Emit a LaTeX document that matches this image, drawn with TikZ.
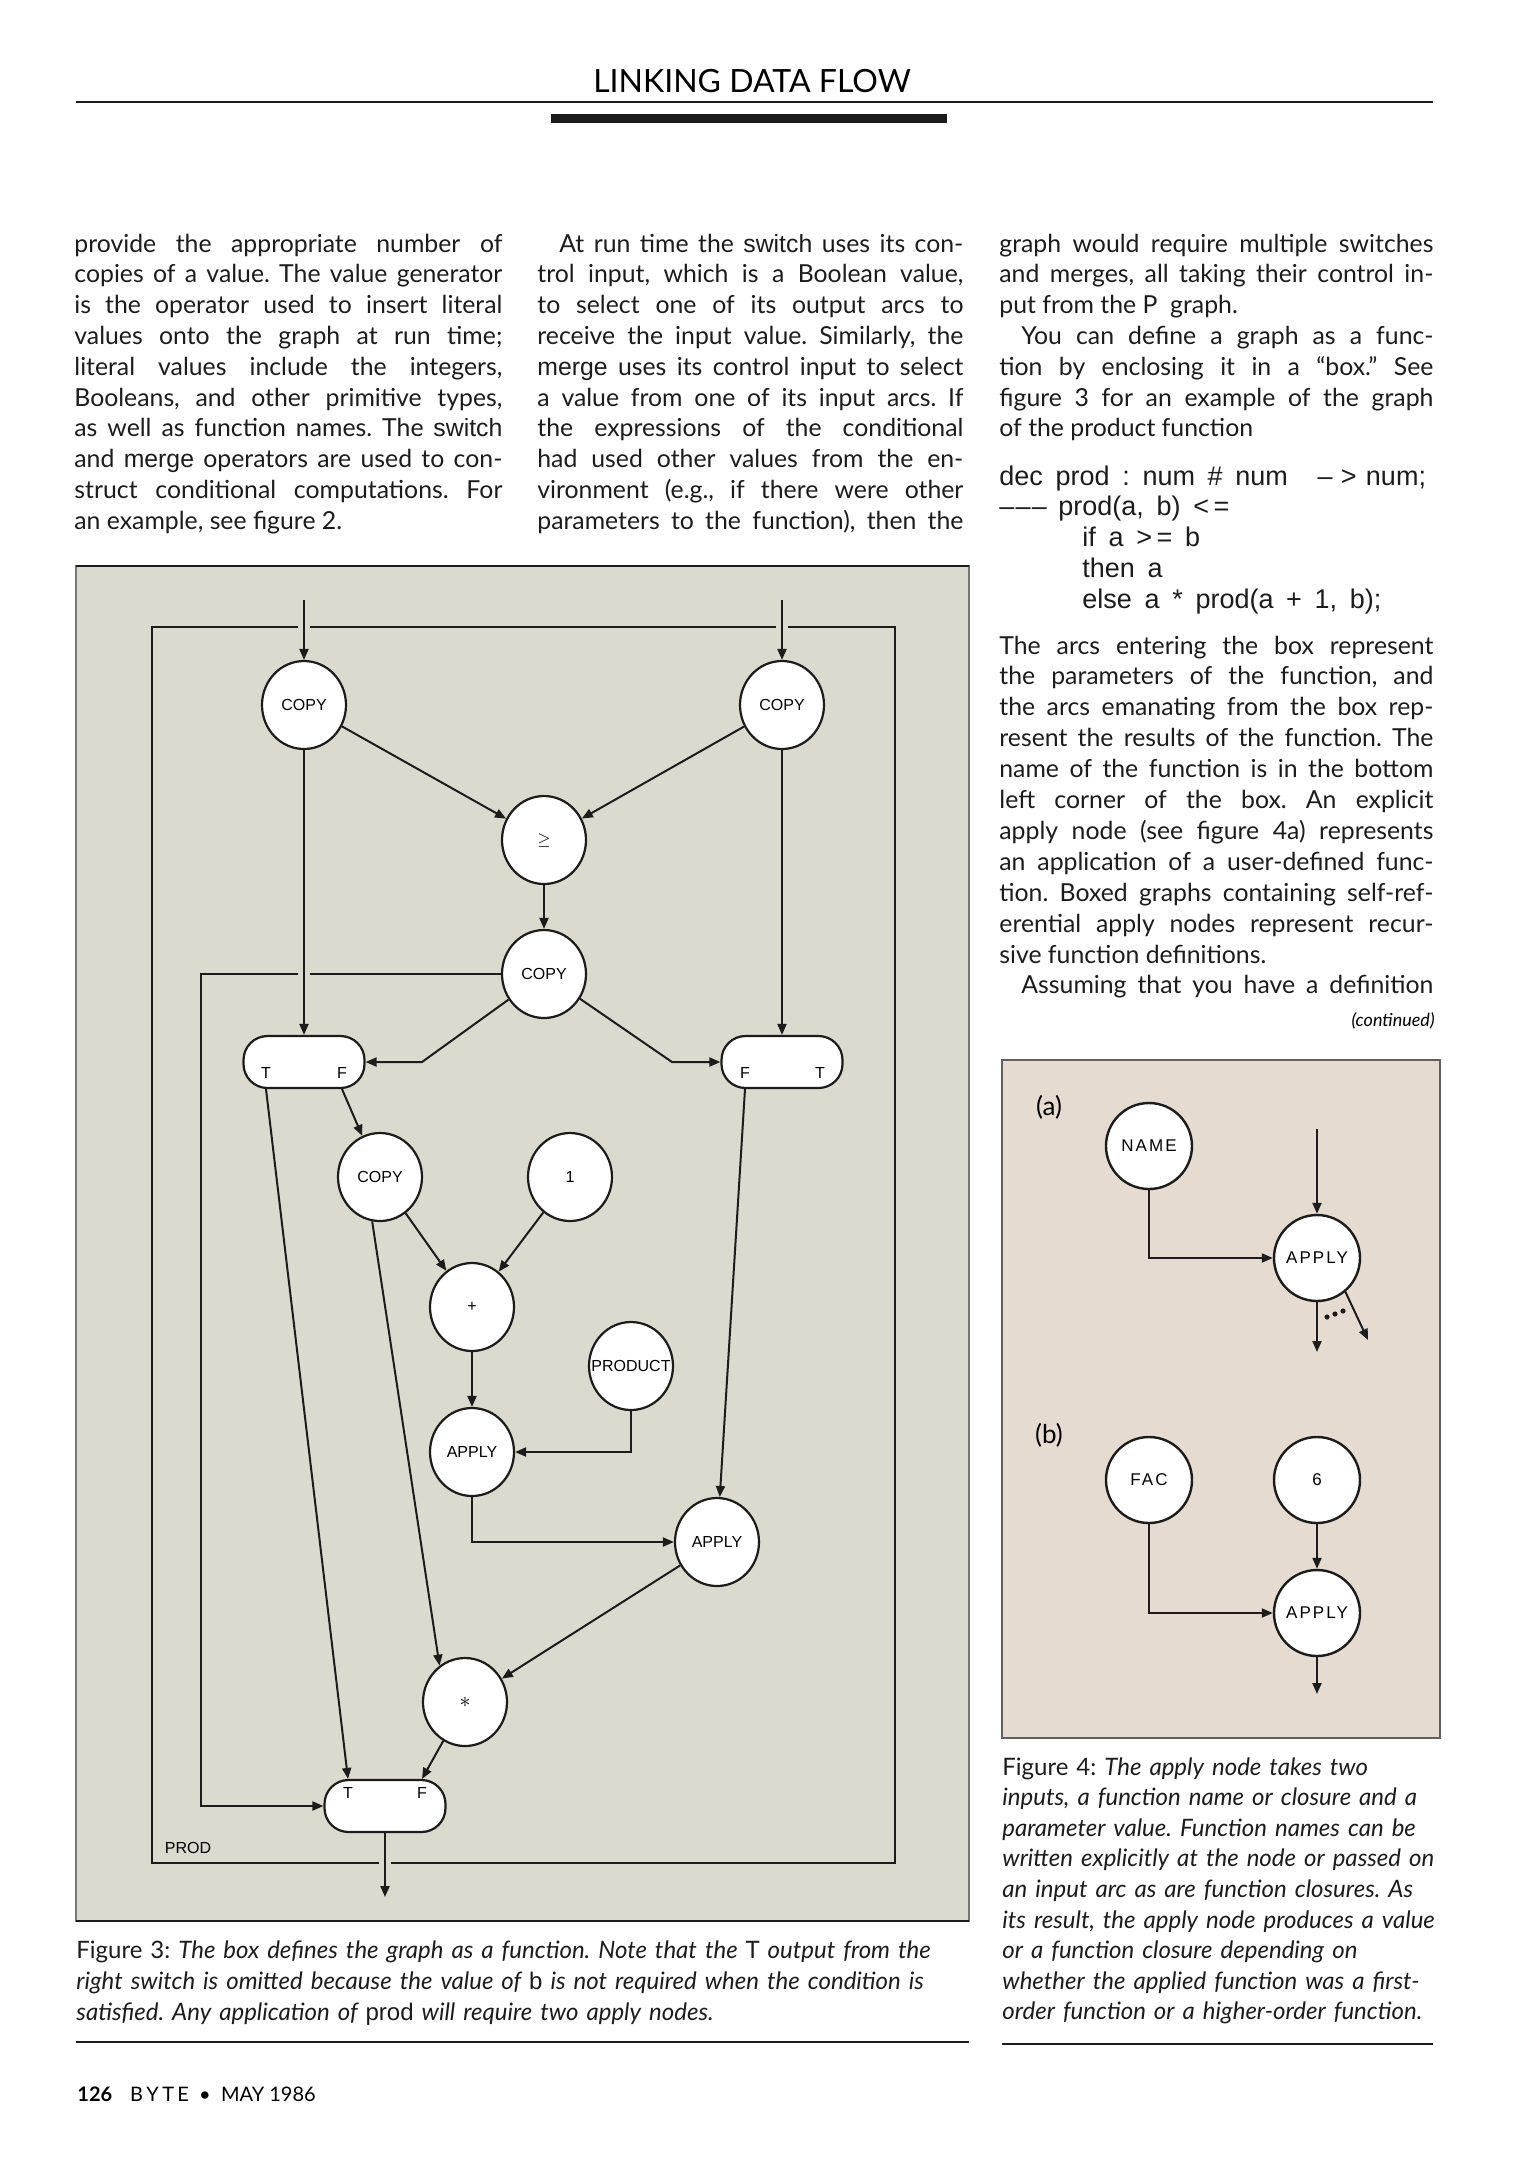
\documentclass[tikz,border=0pt]{standalone}
\usepackage{fontspec}
\setmainfont{Lato}
\newfontfamily\figfont{Liberation Sans}
\newfontfamily\figfontsp[LetterSpace=12.0]{Liberation Sans}
\usepackage{xcolor}
\usepackage{tikz}
\usetikzlibrary{arrows.meta,shapes.geometric}

\definecolor{ink}{HTML}{1C1C1C}
\definecolor{panelA}{HTML}{DCD9CE}
\definecolor{panelB}{HTML}{E5DBD1}

\setlength{\parindent}{0pt}
\frenchspacing
\newlength{\colw}
% one justified line of a column
\newcommand{\jl}[1]{\makebox[\colw][s]{#1}\\}
\newcommand{\sw}[1]{{\figfont #1}}

\begin{document}
\begin{tikzpicture}[x=0.5pt, y=-0.5pt,
  op/.style={ellipse, draw=ink, line width=1.1pt, fill=white,
             minimum width=42pt, minimum height=44pt, inner xsep=-8pt, inner ysep=-2pt,
             font=\figfont\fontsize{8}{9}\selectfont},
  opb/.style={op, minimum width=43pt, minimum height=43pt, line width=1.2pt,
              font=\figfontsp\fontsize{8.5}{9}\selectfont},
  switchbox/.style={rectangle, rounded corners=12pt, draw=ink, line width=1.1pt, fill=white,
                    minimum width=60.5pt, minimum height=26pt, inner sep=0pt},
  tf/.style={font=\figfont\fontsize{8}{9}\selectfont, inner sep=0pt},
  wire/.style={draw=ink, line width=1pt},
  flow/.style={wire, -{Triangle[length=5.5pt,width=4.5pt]}},
  para/.style={anchor=base west, inner sep=0pt, align=justify, text=ink,
               font=\fontsize{12.4}{15.4}\selectfont},
  figcap/.style={anchor=base west, inner sep=0pt, align=left, text=ink,
              font=\itshape\fontsize{12}{15.5}\selectfont},
  rule/.style={draw=ink, line width=1.2pt}
]
\useasboundingbox (0,0) rectangle (1538,2160);
\fill[white] (0,0) rectangle (1538,2160);

% page head
\node[anchor=base, inner sep=0pt, font=\fontsize{16}{16}\selectfont] (head) at (752,92) {LINKING DATA FLOW};
\draw[rule] (76,102) -- (1433,102);
\fill[ink] (551,114) rectangle (947,123);

% running text
\node[para, text width=214pt] (colA) at (74,252) {\setlength{\colw}{214pt}%
\jl{provide the appropriate number of}
\jl{copies of a value. The value generator}
\jl{is the operator used to insert literal}
\jl{values onto the graph at run time;}
\jl{literal values include the integers,}
\jl{Booleans, and other primitive types,}
\jl{as well as function names. The \sw{switch}}
\jl{and \sw{merge} operators are used to con-}
\jl{struct conditional computations. For}
an example, see figure 2.};

\node[para, text width=213pt] (colB) at (537,252) {\setlength{\colw}{213pt}%
\jl{\hspace*{11pt}At run time the \sw{switch} uses its con-}
\jl{trol input, which is a Boolean value,}
\jl{to select one of its output arcs to}
\jl{receive the input value. Similarly, the}
\jl{\sw{merge} uses its control input to select}
\jl{a value from one of its input arcs. If}
\jl{the expressions of the conditional}
\jl{had used other values from the en-}
\jl{vironment (e.g., if there were other}
\makebox[\colw][s]{parameters to the function), then the}};

\node[para, text width=217pt] (colC) at (999,252) {\setlength{\colw}{217pt}%
\jl{graph would require multiple switches}
\jl{and merges, all taking their control in-}
put from the P\ \ graph.\\
\jl{\hspace*{11pt}You can define a graph as a func-}
\jl{tion by enclosing it in a ``box.'' See}
\jl{figure 3 for an example of the graph}
of the product function};

\node[para, text width=217pt, font=\figfont\fontsize{13.5}{15.4}\selectfont] (code) at (999,485) {\spaceskip=0.47em\relax
dec prod : num \# num\hspace{1.1em}–\hspace{0.3em}>\hspace{0.35em}num;\\
\makebox[29.5pt][l]{–\hspace{0.6pt}–\hspace{0.6pt}–}prod(a, b) <\,=\\
\hspace*{41.5pt}if a >\,= b\\
\hspace*{41.5pt}then a\\
\hspace*{41.5pt}else a * prod(a + 1, b);};

\node[para, text width=217pt, font=\fontsize{12.4}{15.45}\selectfont] (colD) at (999,654) {\setlength{\colw}{217pt}%
\jl{The arcs entering the box represent}
\jl{the parameters of the function, and}
\jl{the arcs emanating from the box rep-}
\jl{resent the results of the function. The}
\jl{name of the function is in the bottom}
\jl{left corner of the box. An explicit}
\jl{apply node (see figure 4a) represents}
\jl{an application of a user-defined func-}
\jl{tion. Boxed graphs containing self-ref-}
\jl{erential apply nodes represent recur-}
sive function definitions.\\
\makebox[\colw][s]{\hspace*{11pt}Assuming that you have a definition}};
\node[anchor=base east, inner sep=0pt, font=\itshape\fontsize{9}{10}\selectfont] (cont) at (1435,1026) {(continued)};

% figure 3: the PROD box
\fill[panelA, draw=ink!60, line width=0.6pt] (76,566) rectangle (969,1921);
\draw[rule] (76,566) -- (969,566);
\draw[rule] (76,1921) -- (969,1921);
\draw[ink, line width=1.3pt] (152,627) rectangle (895,1863);
\fill[panelA] (298,621) rectangle (310,633);
\fill[panelA] (776,621) rectangle (788,633);
\fill[panelA] (379,1857) rectangle (391,1869);
\node[tf] (prodlbl) at (188,1848) {PROD};

\node[op] (copyA) at (304,705) {COPY};
\node[op] (copyB) at (782,705) {COPY};
\node[op] (geq) at (544,840) {$\geq$};
\node[op] (copyC) at (544,974) {COPY};
\node[switchbox] (swA) at (304,1062) {};
\node[switchbox] (swB) at (782,1062) {};
\node[op] (copyD) at (380,1177) {COPY};
\node[op] (one) at (570,1177) {1};
\node[op] (plus) at (472,1307) {+};
\node[op] (prodname) at (631,1366) {PRODUCT};
\node[op] (applyA) at (472,1452) {APPLY};
\node[op] (applyB) at (717,1542) {APPLY};
\node[op] (times) at (465,1702) {\fontsize{11}{11}\selectfont$\ast$};
\node[switchbox] (merge) at (385,1806) {};

\node[tf] (swAT) at (266,1073) {T};
\node[tf] (swAF) at (342,1073) {F};
\node[tf] (swBF) at (745,1073) {F};
\node[tf] (swBT) at (820,1073) {T};
\node[tf] (mT) at (348,1793) {T};
\node[tf] (mF) at (422,1793) {F};

\coordinate (inA) at (304,600);
\coordinate (inB) at (782,600);
\coordinate (kA) at (422,1062);
\coordinate (kB) at (672,1062);
\coordinate (ctl) at (201,974);
\coordinate (out) at (385,1897);

\draw[flow] (inA) -- (copyA);
\draw[flow] (inB) -- (copyB);
\draw[flow] (copyA) -- (geq);
\draw[flow] (copyB) -- (geq);
\draw[flow] (geq) -- (copyC);
\draw[flow] (copyC.west) -- (ctl) |- (merge.west);
\fill[panelA] (298,969) rectangle (310,979);
\draw[flow] (copyA) -- (swA);
\draw[flow] (copyB) -- (swB);
\draw[flow] (copyC) -- (kA) -- (swA);
\draw[flow] (copyC) -- (kB) -- (swB);
\draw[flow] (swAT |- swA.south) -- (mT |- merge.north);
\draw[flow] (swAF |- swA.south) -- (copyD);
\draw[flow] (swBF |- swB.south) -- (applyB);
\draw[flow] (copyD) -- (plus);
\draw[flow] (one) -- (plus);
\draw[flow] (copyD.-100) -- (times.125);
\draw[flow] (plus) -- (applyA);
\draw[flow] (prodname) |- (applyA);
\draw[flow] (applyA) |- (applyB);
\draw[flow] (applyB) -- (times);
\draw[flow] (times) -- (mF |- merge.north);
\draw[flow] (merge) -- (out);

\node[figcap, text width=470pt] (capA) at (76,1958) {{\upshape Figure 3:} The box defines the graph as a function. Note that the {\upshape T} output from the\\
right switch is omitted because the value of {\upshape\figfont b} is not required when the condition is\\
satisfied. Any application of {\upshape\figfont prod} will require two apply nodes.};
\draw[rule] (76,2042) -- (969,2042);

% figure 4: apply nodes
\fill[panelB, draw=ink!70, line width=0.8pt] (1002,1060) rectangle (1440,1738);
\node[inner sep=0pt, font=\fontsize{13}{14}\selectfont] (parta) at (1049,1107) {(a)};
\node[opb] (name) at (1149,1146) {NAME};
\node[opb] (applyC) at (1317,1258) {APPLY};
\coordinate (inC) at (1317,1129);
\coordinate (outC) at (1317,1352);
\coordinate (outD) at (1368,1340);
\draw[flow] (inC) -- (applyC);
\draw[flow] (name) |- (applyC);
\draw[flow] (applyC) -- (outC);
\draw[flow] (applyC.-50) -- (outD);
\foreach \k in {0,1,2}
  \fill[ink] (1327+8*\k,1317-3*\k) circle (1.3pt);

\node[inner sep=0pt, font=\fontsize{13}{14}\selectfont] (partb) at (1049,1435) {(b)};
\node[opb] (fac) at (1149,1480) {FAC};
\node[opb] (six) at (1317,1480) {6};
\node[opb] (applyD) at (1317,1613) {APPLY};
\coordinate (outE) at (1317,1694);
\draw[flow] (six) -- (applyD);
\draw[flow] (fac) |- (applyD);
\draw[flow] (applyD) -- (outE);

\node[figcap, text width=240pt, font=\itshape\fontsize{12}{15.3}\selectfont] (capB) at (1002,1775) {{\upshape Figure 4:} The apply node takes two\\
inputs, a function name or closure and a\\
parameter value. Function names can be\\
written explicitly at the node or passed on\\
an input arc as are function closures. As\\
its result, the apply node produces a value\\
or a function closure depending on\\
whether the applied function was a first-\\
order function or a higher-order function.};
\draw[rule] (1002,2044) -- (1433,2044);

% folio
\node[anchor=base west, inner sep=0pt, font=\fontsize{10}{11}\selectfont] (folio) at (77,2101) {\textbf{126}\hspace{9pt}B\,Y\,T\,E\ \ \textbullet\ \ MAY 1986};
\end{tikzpicture}
\end{document}
